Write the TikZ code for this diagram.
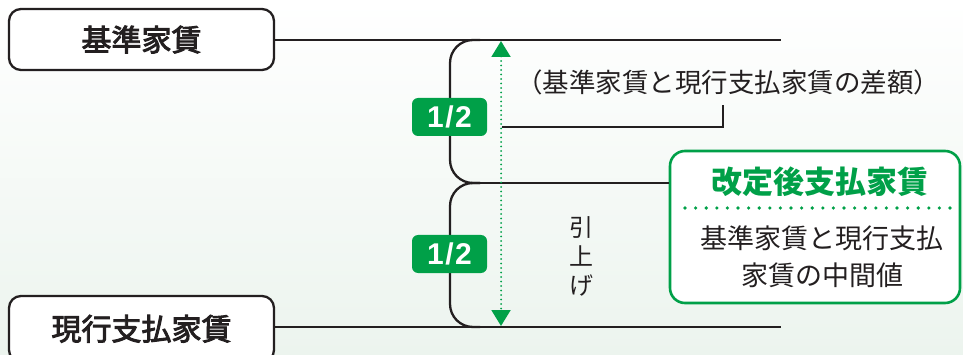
\documentclass[tikz,border=0pt]{standalone}
\usepackage{fontspec}
\usetikzlibrary{arrows.meta}
\newfontfamily\jp{Noto Sans CJK JP}
\newfontfamily\jpmed[FakeBold=3]{Noto Sans CJK JP}
\newfontfamily\numf{Liberation Sans}
\definecolor{ink}{HTML}{231F20}
\definecolor{grn}{RGB}{0,160,72}
\definecolor{bgbot}{RGB}{236,244,238}
\tikzset{
  rentbox/.style={draw=ink, line width=2.3pt, fill=white, rounded corners=12pt,
    minimum width=265pt, inner sep=0pt, font=\jpmed\fontsize{30}{34}\selectfont, text=ink},
  halfbox/.style={fill=grn, rounded corners=6pt, minimum width=75pt, minimum height=38pt,
    inner sep=0pt, text=white, font=\numf\bfseries\fontsize{30}{32}\selectfont},
  rentline/.style={draw=ink, line width=2.3pt},
  thinline/.style={draw=ink, line width=1.1pt},
  note/.style={text=ink, inner sep=0pt, font=\jp\fontsize{26.5}{28}\selectfont},
  resultbox/.style={draw=grn, line width=2.6pt, fill=white, rounded corners=15pt,
    minimum width=290pt, minimum height=152pt, inner sep=0pt},
}
\begin{document}
\begin{tikzpicture}[x=1pt,y=-1pt]
\useasboundingbox (0,0) rectangle (963,355);
\shade[top color=white, bottom color=bgbot] (0,0) rectangle (963,355);
\clip (0,0) rectangle (963,355);

% boxes
\node[rentbox, minimum height=61pt] (kijun) at (141.5,39.5) {基準家賃};
\node[rentbox, minimum height=66pt] (genko) at (141.5,329) {\raisebox{3pt}{現行支払家賃}};

% coordinates
\coordinate (topend) at (781,40);
\coordinate (botend) at (781,327);
\coordinate (brT) at (480,40);
\coordinate (brM) at (480,183);
\coordinate (brB) at (480,327);

% horizontal lines
\draw[rentline] (kijun.east |- topend) -- (topend);
\draw[rentline] (genko.east |- botend) -- (botend);

% result box
\node[resultbox] (kaitei) at (815,227) {};
\draw[rentline] (brM) -- (kaitei.west |- brM);
\node[text=grn, font=\jp\bfseries\fontsize{31}{34}\selectfont, inner sep=0pt] (ktitle) at (820,182) {改定後支払家賃};
\coordinate (dotL) at (685,208);
\coordinate (dotR) at (950,208);
\draw[grn, line width=3.6pt, line cap=round, dash pattern=on 0pt off 10.6pt] (dotL) -- (dotR);
\node[note, font=\jp\fontsize{27}{37}\selectfont, align=center] (kbody) at (822,257) {基準家賃と現行支払\\家賃の中間値};

% brackets
\draw[rentline, rounded corners=23pt] (brT) -| (450,183) -- (brM);
\draw[rentline, rounded corners=23pt] (brM) -| (450,327) -- (brB);

% half labels
\node[halfbox] (h1) at (449.5,117) {1\kern1.5pt/\kern1.5pt2};
\node[halfbox] (h2) at (449.5,254) {1\kern1.5pt/\kern1.5pt2};

% green dotted arrow
\coordinate (aTop) at (501,41);
\coordinate (aBot) at (501,326);
\draw[grn, line width=2pt, line cap=round, dash pattern=on 0pt off 4.5pt,
  {Triangle[width=19pt,length=16pt]}-{Triangle[width=19pt,length=16pt]}] (aTop) -- (aBot);

% leader and note
\coordinate (ldA) at (502,127);
\node[note] (diff) at (728,82) {（基準家賃と現行支払家賃の差額）};
\draw[thinline] (ldA) -| (723,105);

% vertical text
\node[note, align=center, font=\jp\fontsize{24}{29}\selectfont] (hikiage) at (581,256) {引\\上\\げ};
\end{tikzpicture}
\end{document}
